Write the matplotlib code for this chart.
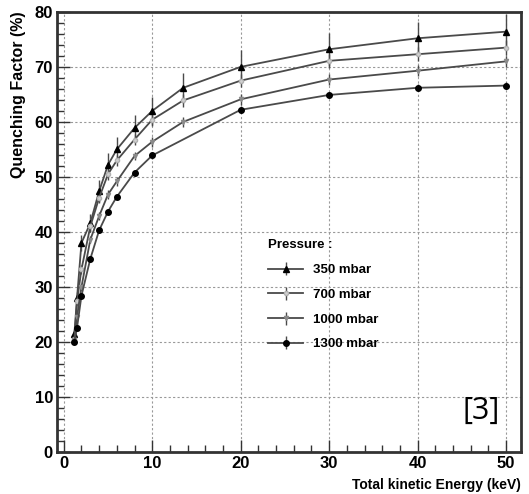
import matplotlib
matplotlib.use("Agg")
import matplotlib.pyplot as plt
from matplotlib.ticker import MultipleLocator

plt.rcParams['font.family'] = ['Liberation Sans', 'DejaVu Sans']

# Quenching factor vs. total kinetic energy for four gas pressures
energy = [1.2, 1.5, 2, 3, 4, 5, 6, 8, 10, 13.5, 20, 30, 40, 50]
energy_1300 = [1.2, 1.5, 2, 3, 4, 5, 6, 8, 10, 20, 30, 40, 50]

qf_350 = [21.5, 28.0, 38.0, 41.6, 47.4, 52.2, 55.0, 58.9, 62.0, 66.2, 70.0, 73.2, 75.2, 76.4]
err_350 = [0.8, 1.0, 1.5, 1.6, 2.0, 2.2, 2.2, 2.3, 2.5, 2.7, 3.0, 3.0, 2.9, 3.3]

qf_700 = [20.5, 27.4, 33.2, 41.0, 46.2, 50.5, 53.0, 56.8, 60.4, 63.9, 67.5, 71.1, 72.3, 73.5]
err_700 = [0.5, 0.6, 0.8, 1.0, 1.0, 1.0, 1.0, 1.0, 1.1, 1.2, 1.2, 1.3, 1.3, 1.4]

qf_1000 = [20.3, 24.6, 30.0, 38.6, 42.9, 46.8, 49.2, 53.8, 56.4, 60.0, 64.1, 67.7, 69.3, 71.0]
err_1000 = [0.4, 0.5, 0.6, 0.7, 0.7, 0.8, 0.8, 0.8, 0.9, 0.9, 1.0, 1.0, 1.0, 1.0]

qf_1300 = [20.0, 22.6, 28.4, 35.1, 40.3, 43.7, 46.4, 50.8, 53.9, 62.2, 64.9, 66.2, 66.6]
err_1300 = [0.3, 0.4, 0.4, 0.5, 0.5, 0.5, 0.5, 0.5, 0.6, 0.6, 0.6, 0.6, 0.6]

fig = plt.figure(figsize=(5.29, 4.94), dpi=100)
ax = fig.add_axes([0.108, 0.085, 0.877, 0.891])

line_col = "#4a4a4a"
series = [
    (energy, qf_350, err_350, "350 mbar", "^", "black", "black", 4),
    (energy, qf_700, err_700, "700 mbar", "o", "#d0d0d0", "#b0b0b0", 3),
    (energy, qf_1000, err_1000, "1000 mbar", "v", "#8a8a8a", "#8a8a8a", 3),
    (energy_1300, qf_1300, err_1300, "1300 mbar", "o", "black", "black", 4),
]
for x, y, e, lab, mk, fc, ec, ms in series:
    ax.errorbar(x, y, yerr=e, color=line_col, lw=1.3, elinewidth=1.0,
                marker=mk, markersize=ms, markerfacecolor=fc, markeredgecolor=ec,
                capsize=0, label=lab)

ax.set_xlim(-0.75, 51.7)
ax.set_ylim(0, 80)
ax.xaxis.set_major_locator(MultipleLocator(10))
ax.xaxis.set_minor_locator(MultipleLocator(2))
ax.yaxis.set_major_locator(MultipleLocator(10))
ax.yaxis.set_minor_locator(MultipleLocator(2))
ax.tick_params(which="both", direction="in", top=False, right=False, width=1.0, color="#333333")
ax.tick_params(which="major", length=9, labelsize=12, pad=3)
ax.tick_params(which="minor", length=5)
for lbl in ax.get_xticklabels() + ax.get_yticklabels():
    lbl.set_fontweight("bold")

ax.grid(True, which="major", linestyle=(0, (2, 2)), color="#999999", lw=0.8)
for sp in ax.spines.values():
    sp.set_linewidth(2.0)
    sp.set_color("#333333")

ax.set_ylabel("Quenching Factor (%)", fontsize=11.5, fontweight="bold", loc="top", labelpad=6)
ax.set_xlabel("Total kinetic Energy (keV)", fontsize=10, fontweight="bold", loc="right", labelpad=5)

leg = ax.legend(loc="upper left", bbox_to_anchor=(0.43, 0.51), frameon=False,
                title="Pressure :", alignment="left", handlelength=2.6,
                labelspacing=0.95, prop={"weight": "bold", "size": 9.5},
                title_fontproperties={"weight": "bold", "size": 9.5})

ax.text(0.955, 0.06, "[3]", transform=ax.transAxes, ha="right", va="bottom",
        fontsize=22, family="Open Sans")

fig.savefig("out.png", dpi=100)
